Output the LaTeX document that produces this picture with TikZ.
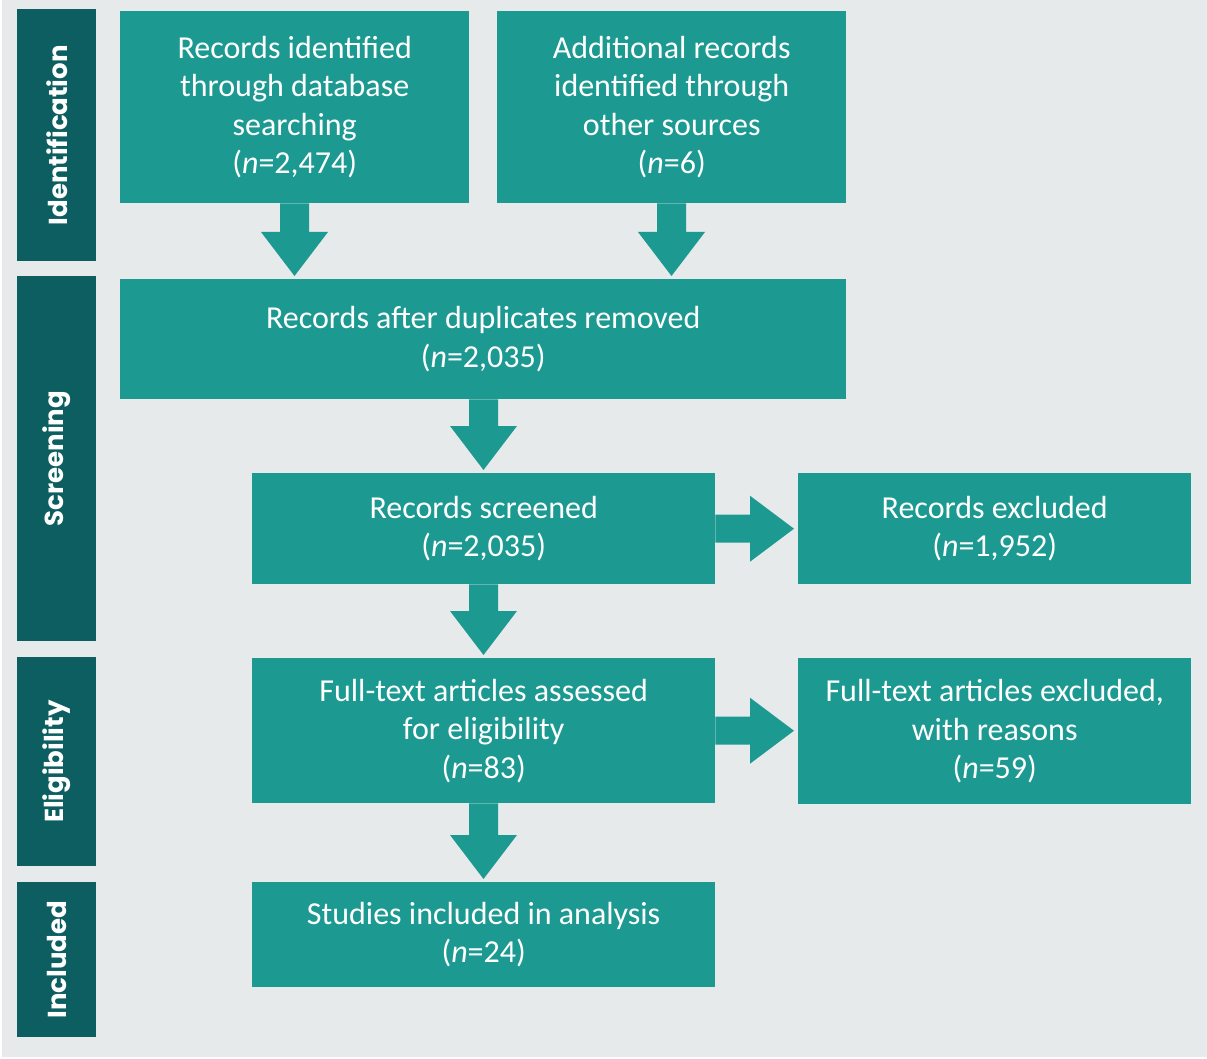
\documentclass[tikz,border=0pt]{standalone}
\usepackage{fontspec}
\setmainfont{Carlito}
\newfontfamily\sidefont{Poppins}
\usetikzlibrary{calc}
\definecolor{bgc}{HTML}{E6EAEB}
\definecolor{boxc}{HTML}{1C9A92}
\definecolor{sidec}{HTML}{0C5E60}
\tikzset{
  box/.style={rectangle, fill=boxc, text=white, inner sep=0pt, anchor=north west,
    align=center, font=\fontsize{32}{38.5}\selectfont},
  side/.style={rectangle, fill=sidec, inner sep=0pt, anchor=north west, minimum width=79pt},
  sidelab/.style={text=white, rotate=90, font=\sidefont\bfseries\fontsize{26}{30}\selectfont},
  arr/.style={fill=boxc}
}
\newcommand\DownArr[3]{%
  \fill[arr] ($(#1.south -| #3)+(-14.5,0)$) -- ($(#2.north -| #3)+(-14.5,-47)$)
    -- ($(#2.north -| #3)+(-33.5,-47)$) -- ($(#2.north -| #3)+(0,-3)$)
    -- ($(#2.north -| #3)+(33.5,-47)$) -- ($(#2.north -| #3)+(14.5,-47)$)
    -- ($(#1.south -| #3)+(14.5,0)$) -- cycle;}
\newcommand\RightArr[2]{%
  \fill[arr] ($(#1.east)+(0,-14)$) -- ($(#2.west |- #1.east)+(-48,-14)$)
    -- ($(#2.west |- #1.east)+(-48,-33)$) -- ($(#2.west |- #1.east)+(-4,0)$)
    -- ($(#2.west |- #1.east)+(-48,33)$) -- ($(#2.west |- #1.east)+(-48,14)$)
    -- ($(#1.east)+(0,14)$) -- cycle;}
\begin{document}
\begin{tikzpicture}[x=1pt,y=-1pt]
\useasboundingbox (0,0) rectangle (1207,1059);
\fill[white] (0,0) rectangle (1207,1059);
\fill[bgc] (2,0) rectangle (1207,1057);

% side bars
\node[side, minimum height=252pt] (sid) at (17,9) {};
\node[side, minimum height=365pt] (ssc) at (17,276) {};
\node[side, minimum height=209pt] (sel) at (17,657) {};
\node[side, minimum height=155pt] (sin) at (17,882) {};
\node[sidelab] (lid) at (sid.center) {Identification};
\node[sidelab] (lsc) at (ssc.center) {Screening};
\node[sidelab] (lel) at (sel.center) {Eligibility};
\node[sidelab] (lin) at (sin.center) {Included};

% boxes
\node[box, minimum width=349pt, minimum height=192pt] (b1) at (120,11)
  {Records identified\\through database\\searching\\(\textit{n}=2,474)};
\node[box, minimum width=349pt, minimum height=192pt] (b2) at (497,11)
  {Additional records\\identified through\\other sources\\(\textit{n}=6)};
\node[box, minimum width=726pt, minimum height=120pt] (b3) at (120,279)
  {Records after duplicates removed\\(\textit{n}=2,035)};
\node[box, minimum width=463pt, minimum height=111pt] (b4) at (252,473)
  {Records screened\\(\textit{n}=2,035)};
\node[box, minimum width=393pt, minimum height=111pt] (b5) at (798,473)
  {Records excluded\\(\textit{n}=1,952)};
\node[box, minimum width=463pt, minimum height=145pt] (b6) at (252,658)
  {Full-text articles assessed\\for eligibility\\(\textit{n}=83)};
\node[box, minimum width=393pt, minimum height=146pt] (b7) at (798,658)
  {Full-text articles excluded,\\with reasons\\(\textit{n}=59)};
\node[box, minimum width=463pt, minimum height=105pt] (b8) at (252,882)
  {Studies included in analysis\\(\textit{n}=24)};

% arrows
\coordinate (x1) at (294.5,0);
\coordinate (x2) at (671.5,0);
\coordinate (x3) at (483.5,0);
\DownArr{b1}{b3}{x1}
\DownArr{b2}{b3}{x2}
\DownArr{b3}{b4}{x3}
\DownArr{b4}{b6}{x3}
\DownArr{b6}{b8}{x3}
\RightArr{b4}{b5}
\RightArr{b6}{b7}
\end{tikzpicture}
\end{document}
